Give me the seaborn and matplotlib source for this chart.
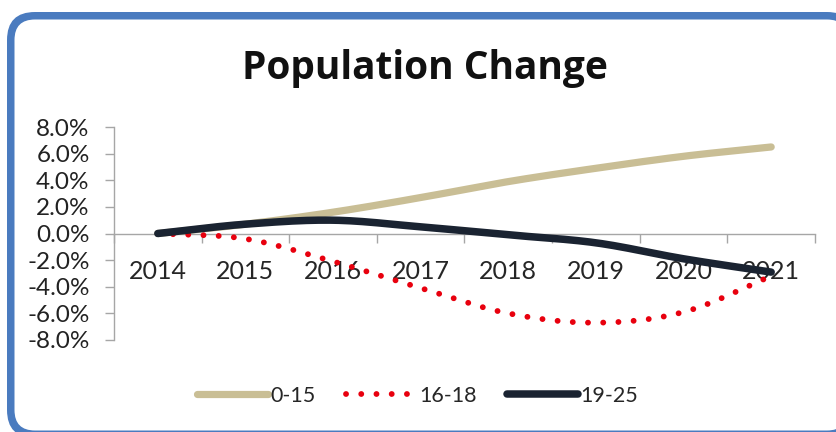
import numpy as np
import pandas as pd
import seaborn as sns
import matplotlib.pyplot as plt
from matplotlib.patches import FancyBboxPatch
from matplotlib.lines import Line2D

years = ['2014', '2015', '2016', '2017', '2018', '2019', '2020', '2021']
age_0_15 = [0.0, 0.7, 1.6, 2.7, 3.9, 4.9, 5.8, 6.5]
age_16_18 = [0.0, -0.4, -2.1, -4.1, -6.0, -6.7, -5.9, -3.2]
age_19_25 = [0.0, 0.7, 1.0, 0.5, -0.1, -0.7, -1.9, -2.9]
yticks = [-8, -6, -4, -2, 0, 2, 4, 6, 8]

sns.set_theme(style='white')
plt.rcParams['font.family'] = ['Lato', 'DejaVu Sans']


def smooth(y, n=30):
    # catmull-rom style smoothing like excel's "smoothed line"
    y = np.asarray(y, dtype=float)
    x = np.arange(len(y), dtype=float)
    px = np.concatenate([[2 * x[0] - x[1]], x, [2 * x[-1] - x[-2]]])
    py = np.concatenate([[2 * y[0] - y[1]], y, [2 * y[-1] - y[-2]]])
    xs, ys = [], []
    for i in range(1, len(px) - 2):
        t = np.linspace(0, 1, n, endpoint=False)
        for p, out in ((px, xs), (py, ys)):
            p0, p1, p2, p3 = p[i - 1], p[i], p[i + 1], p[i + 2]
            out.extend(0.5 * ((2 * p1) + (-p0 + p2) * t
                              + (2 * p0 - 5 * p1 + 4 * p2 - p3) * t ** 2
                              + (-p0 + 3 * p1 - 3 * p2 + p3) * t ** 3))
    xs.append(x[-1])
    ys.append(y[-1])
    return np.array(xs), np.array(ys)


fig = plt.figure(figsize=(8.37, 4.32), dpi=100)

# rounded blue frame as two filled shapes (outer blue, inner white);
# the right side runs past the canvas like in the source image
outer = FancyBboxPatch((0.07, -0.06), 8.48, 4.26,
                       boxstyle='round,pad=0,rounding_size=0.28',
                       transform=fig.dpi_scale_trans, facecolor='#4A7BBF',
                       edgecolor='none', zorder=-2)
inner = FancyBboxPatch((0.145, 0.015), 8.33, 4.11,
                       boxstyle='round,pad=0,rounding_size=0.205',
                       transform=fig.dpi_scale_trans, facecolor='white',
                       edgecolor='none', zorder=-1)
fig.patches.extend([outer, inner])

ax = fig.add_axes([114 / 837, 1 - 340 / 432, (815 - 114) / 837, (340 - 127) / 432])
ax.set_facecolor('none')

beige = '#C9BE95'
red = '#E8000E'
navy = '#1A2331'
dots = (0, (0.01, 2.6))

xs, ys = smooth(age_0_15)
sns.lineplot(x=xs, y=ys, ax=ax, color=beige, lw=5.2, sort=False,
             solid_capstyle='round')
xs, ys = smooth(age_16_18)
sns.lineplot(x=xs, y=ys, ax=ax, color=red, lw=4.2, sort=False,
             linestyle=dots, dash_capstyle='round')
xs, ys = smooth(age_19_25)
sns.lineplot(x=xs, y=ys, ax=ax, color=navy, lw=5.4, sort=False,
             solid_capstyle='round')

ax.set_xlim(-0.5, len(years) - 0.5)
ax.set_ylim(-8, 8)
ax.set_yticks(yticks)
ax.set_yticklabels([f'{v:.1f}%' for v in yticks], color='#222222')
ax.set_xticks(range(len(years)))
ax.set_xticklabels(years, color='#111111')
ax.set_xticks(np.arange(-0.5, len(years)), minor=True)

for s in ['top', 'right']:
    ax.spines[s].set_visible(False)
ax.spines['bottom'].set_position(('data', 0))
for s in ['left', 'bottom']:
    ax.spines[s].set_color('#A6A6A6')
    ax.spines[s].set_linewidth(1.0)
ax.spines['bottom'].set_zorder(0)
ax.tick_params(axis='y', direction='out', length=6.5, width=1.0,
               color='#A6A6A6', pad=11, left=True, labelsize=17.5)
ax.tick_params(axis='x', which='major', length=0, pad=19, labelsize=18)
ax.tick_params(axis='x', which='minor', direction='out', length=6.5,
               width=1.0, color='#A6A6A6', bottom=True)
ax.set_xlabel('')
ax.set_ylabel('')
ax.grid(False)

fig.text(0.508, 1 - 79 / 432, 'Population Change', ha='center', va='baseline',
         fontsize=28, fontweight='bold', color='#111111',
         family=['Open Sans', 'DejaVu Sans'])

handles = [
    Line2D([], [], color=beige, lw=5.2, solid_capstyle='round'),
    Line2D([], [], color=red, lw=4.2, linestyle=dots, dash_capstyle='round'),
    Line2D([], [], color=navy, lw=5.4, solid_capstyle='round'),
]
fig.legend(handles, ['0-15', '16-18', '19-25'], loc='center',
           bbox_to_anchor=(0.499, 1 - 396 / 432), ncol=3, frameon=False,
           fontsize=15.5, handlelength=3.3, handletextpad=0.12,
           columnspacing=1.4)

fig.savefig('out.png', dpi=100)
